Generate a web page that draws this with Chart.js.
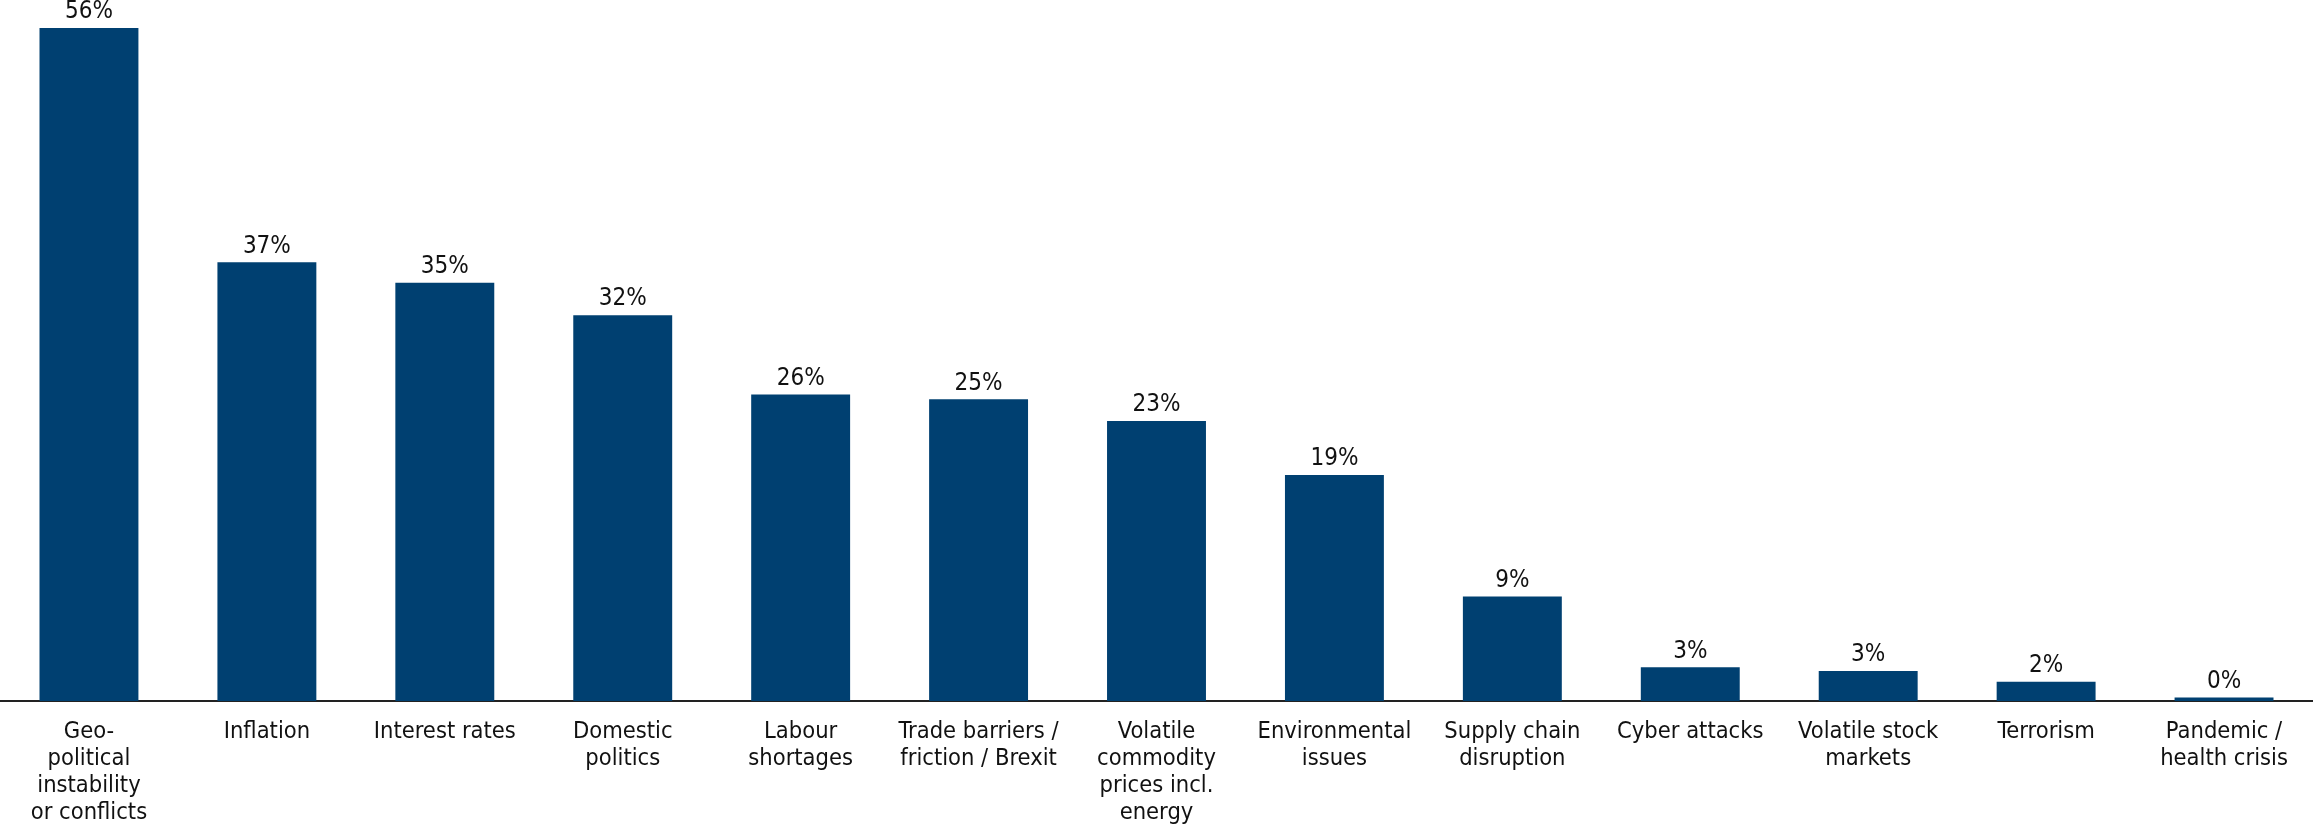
<!DOCTYPE html>
<html>
<head>
<meta charset="utf-8">
<title>Risks</title>
<script src="https://cdn.jsdelivr.net/npm/chart.js@4/dist/chart.umd.min.js"></script>
<style>
  html, body { margin: 0; padding: 0; background: #fff; }
  #wrap { width: 2313px; height: 826px; position: relative; }
</style>
</head>
<body>
<div id="wrap"><canvas id="riskChart"></canvas></div>
<script>
// categories (multi-line labels) and share of respondents, in %
var categories = [
    ['Geo-', 'political', 'instability', 'or conflicts'],
    'Inflation',
    'Interest rates',
    ['Domestic', 'politics'],
    ['Labour', 'shortages'],
    ['Trade barriers /', 'friction / Brexit'],
    ['Volatile', 'commodity', 'prices incl.', 'energy'],
    ['Environmental', 'issues'],
    ['Supply chain', 'disruption'],
    'Cyber attacks',
    ['Volatile stock', 'markets'],
    'Terrorism',
    ['Pandemic /', 'health crisis']
];
var shares = [56, 36.5, 34.8, 32.1, 25.5, 25.1, 23.3, 18.8, 8.7, 2.8, 2.5, 1.6, 0.3];

var FONT = '"DejaVu Sans Condensed", "DejaVu Sans", sans-serif';

// writes the rounded value above every bar
var valueLabels = {
    id: 'valueLabels',
    afterDatasetsDraw: function (chart) {
        var ctx = chart.ctx;
        var meta = chart.getDatasetMeta(0);
        ctx.save();
        ctx.font = '24px ' + FONT;
        ctx.fillStyle = '#111';
        ctx.textAlign = 'center';
        ctx.textBaseline = 'bottom';
        meta.data.forEach(function (bar, i) {
            ctx.fillText(Math.round(shares[i]) + '%', bar.x, bar.y - 4);
        });
        ctx.restore();
    }
};

var ctx = document.getElementById('riskChart').getContext('2d');
var riskChart = new Chart(ctx, {
    type: 'bar',
    data: {
        labels: categories,
        datasets: [{
            data: shares,
            backgroundColor: '#004071',
            borderWidth: 0,
            barPercentage: 0.556,
            categoryPercentage: 1
        }]
    },
    options: {
        responsive: true,
        maintainAspectRatio: false,
        animation: false,
        layout: { padding: { top: 28, left: 0, right: 0, bottom: 0 } },
        plugins: {
            legend: { display: false },
            tooltip: { enabled: false }
        },
        scales: {
            x: {
                grid: { display: false },
                border: { display: true, color: '#222', width: 2 },
                ticks: {
                    color: '#111',
                    font: { family: FONT, size: 23.5, lineHeight: 1.15 },
                    padding: 9,
                    maxRotation: 0,
                    autoSkip: false
                },
                afterFit: function (scale) { scale.height = 125; }
            },
            y: {
                display: false,
                min: 0,
                max: 56
            }
        }
    },
    plugins: [valueLabels]
});
</script>
</body>
</html>
